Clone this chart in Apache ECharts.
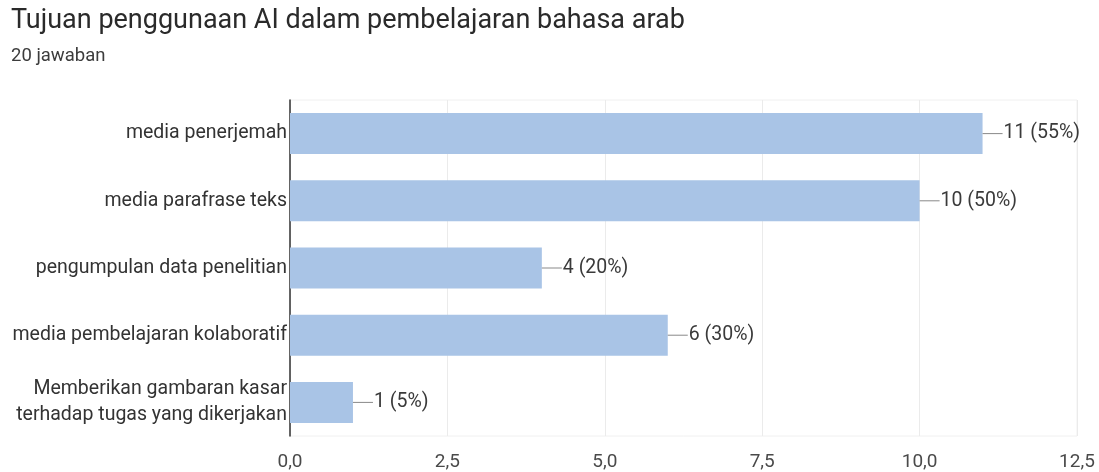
<!DOCTYPE html>
<html>
<head>
<meta charset="utf-8">
<script src="https://cdn.jsdelivr.net/npm/echarts@6/dist/echarts.min.js"></script>
<style>
html,body{margin:0;padding:0;background:#fff;}
#c{width:1099px;height:472px;}
</style>
</head>
<body>
<div id="c"></div>
<script>
var categories = [
  'media penerjemah',
  'media parafrase teks',
  'pengumpulan data penelitian',
  'media pembelajaran kolaboratif',
  'Memberikan gambaran kasar\nterhadap tugas yang dikerjakan'
];
var counts = [11, 10, 4, 6, 1];
var totalResponses = 20;
var titleText = 'Tujuan penggunaan AI dalam pembelajaran bahasa arab';
var subtitleText = '20 jawaban';

var chart = echarts.init(document.getElementById('c'), null, {renderer: 'canvas'});
var FONT = 'Roboto, "Liberation Sans", sans-serif';
chart.setOption({
  animation: false,
  backgroundColor: '#ffffff',
  title: {
    text: titleText,
    subtext: subtitleText,
    left: 6,
    top: 3,
    itemGap: 12,
    textStyle: {fontFamily: FONT, fontSize: 27, fontWeight: 'normal', color: '#2a2a2a'},
    subtextStyle: {fontFamily: FONT, fontSize: 18.5, color: '#3c3c3c'}
  },
  grid: {
    left: 290, right: 22, top: 100, bottom: 34,
    show: true, borderColor: '#f0f0f0', borderWidth: 1
  },
  xAxis: {
    type: 'value',
    min: 0, max: 12.5, interval: 2.5,
    axisLine: {show: false},
    axisTick: {show: false},
    splitLine: {lineStyle: {color: '#ebebeb', width: 1}},
    axisLabel: {
      margin: 17,
      fontFamily: FONT, fontSize: 19, color: '#4a4a4a',
      formatter: function (v) { return v.toFixed(1).replace('.', ','); }
    }
  },
  yAxis: {
    type: 'category',
    inverse: true,
    data: categories,
    axisLine: {show: true, lineStyle: {color: '#333333', width: 1.5}},
    axisTick: {show: false},
    axisLabel: {
      margin: 3,
      fontFamily: FONT, fontSize: 19.5, color: '#333333', lineHeight: 26, align: 'right'
    }
  },
  series: [{
    type: 'bar',
    data: counts,
    barWidth: 41,
    itemStyle: {color: '#a9c4e6'},
    label: {
      show: true,
      position: 'right',
      distance: 0,
      formatter: function (p) {
        return '{ln| }{t|' + p.value + ' (' + Math.round(p.value / totalResponses * 100) + '%)}';
      },
      rich: {
        ln: {width: 20, height: 1, backgroundColor: '#888888'},
        t: {fontFamily: FONT, fontSize: 19.5, color: '#3a3a3a', padding: [0, 0, 0, 1]}
      }
    }
  }]
});
</script>
</body>
</html>
